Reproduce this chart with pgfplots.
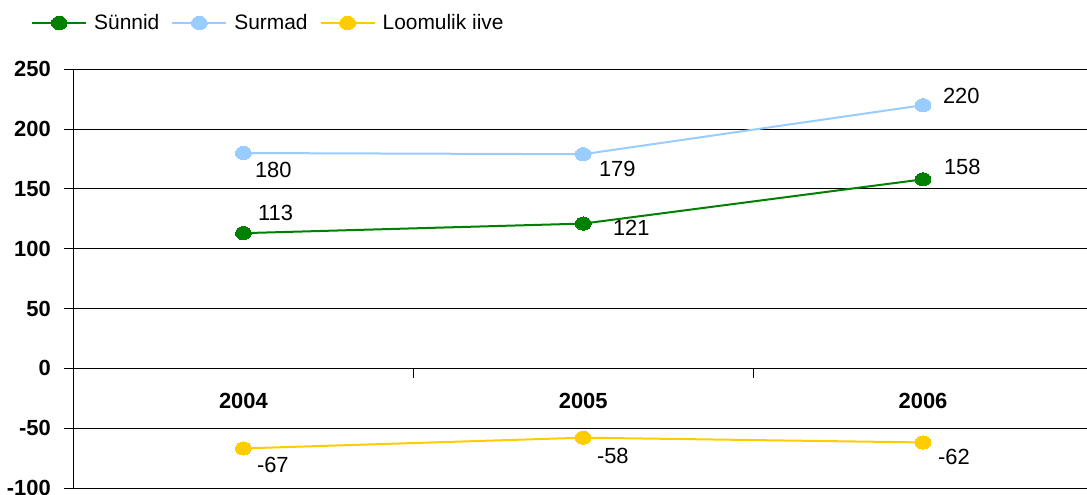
\documentclass[border=0pt]{standalone}
\usepackage{pgfplots}
\usepackage{pgfplotstable}
\pgfplotsset{compat=1.18}
\usepackage{fontspec}
\setmainfont{Liberation Sans}
\definecolor{cGreen}{RGB}{0,128,0}
\definecolor{cBlue}{RGB}{153,204,255}
\definecolor{cYellow}{RGB}{255,204,0}

\pgfplotstableread{
x y lab dx dy
0 113 113 14.6 20.6
1 121 121 29.8 -4.4
2 158 158 21 12.8
}\births
\pgfplotstableread{
x y lab dx dy
0 180 180 11.6 -17
1 179 179 15.8 -14.8
2 220 220 20 9.2
}\deaths
\pgfplotstableread{
x y lab dx dy
0 -67 -67 13.6 -16.1
1 -58 -58 13.8 -18.3
2 -62 -62 15 -14.5
}\natural

\pgfplotsset{
  serie/.style={
    color=#1, line width=2bp,
    mark=*, mark size=6.6bp,
    mark options={solid, xscale=1.2, fill=#1, draw=#1, line width=0pt},
    nodes near coords, point meta=explicit symbolic,
    visualization depends on={\thisrow{dx} \as \dx},
    visualization depends on={\thisrow{dy} \as \dy},
    every node near coord/.append style={anchor=west, inner sep=0pt,
      xshift=\dx bp, yshift=\dy bp, text=black,
      font=\fontsize{22}{26}\selectfont},
  },
}

\begin{document}
\begin{tikzpicture}
\begin{axis}[
  at={(73.5bp,7.1bp)}, anchor=south west,
  scale only axis, width=1013.5bp, height=418.6bp,
  xmin=-0.5, xmax=2.4826, ymin=-100, ymax=250,
  axis y line*=left, axis x line*=middle,
  hide obscured x ticks=false, hide obscured y ticks=false,
  ytick={-100,-50,0,50,100,150,200,250},
  yticklabels={-100,-50,0,50,100,150,200,250},
  ymajorgrids, grid style={black, line width=0.8bp},
  axis line style={black, line width=0.8bp},
  tick align=outside, major tick length=9.5bp,
  tick style={black, line width=0.8bp},
  yticklabel style={font=\fontsize{22}{26}\selectfont\bfseries, inner sep=0pt, xshift=-13bp},
  xtick={0.5,1.5}, xticklabels={},
  extra x ticks={0,1,2}, extra x tick labels={2004,2005,2006},
  extra x tick style={tick style={draw=none}, grid=none,
    xticklabel style={font=\fontsize{22}{26}\selectfont\bfseries, inner sep=0pt, anchor=north, yshift=-15bp}},
  legend columns=-1,
  legend style={at={(axis description cs:-0.0419,1.1106)}, anchor=west,
    draw=none, fill=none, inner sep=0pt, column sep=7bp,
    /tikz/every even column/.append style={column sep=12bp},
    font=\fontsize{21}{25}\selectfont, nodes={inner sep=0pt}},
  legend image code/.code={
    \draw[mark repeat=2,mark phase=2,#1] plot coordinates {(0bp,0bp) (27bp,0bp) (54bp,0bp)};
  },
]
\addplot[serie=cGreen] table[x=x,y=y,meta=lab] {\births};
\addlegendentry{Sünnid}
\addplot[serie=cBlue] table[x=x,y=y,meta=lab] {\deaths};
\addlegendentry{Surmad}
\addplot[serie=cYellow] table[x=x,y=y,meta=lab] {\natural};
\addlegendentry{Loomulik iive}
\end{axis}
\pgfresetboundingbox
\path[use as bounding box] (0,0) rectangle (1087bp,495bp);
\end{tikzpicture}
\end{document}
